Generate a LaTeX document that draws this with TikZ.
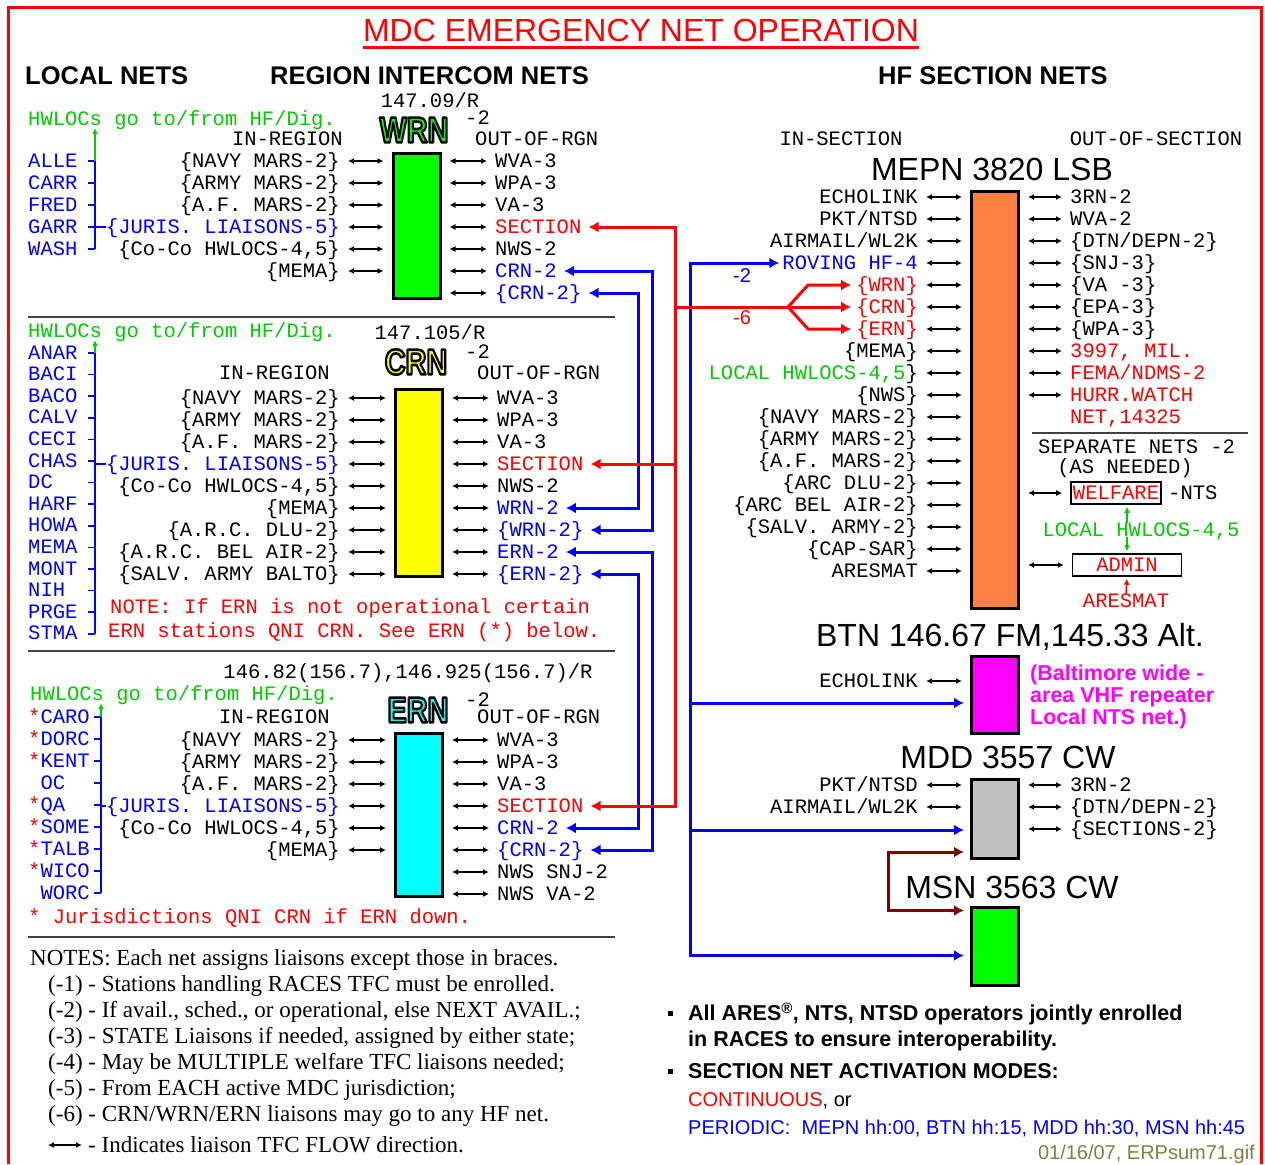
\documentclass[tikz,border=0pt]{standalone}
\usepackage{fontspec}
\setmainfont{Liberation Serif}
\setsansfont{Liberation Sans}
\setmonofont{Liberation Mono}
\usetikzlibrary{arrows.meta,calc}

\definecolor{netred}{RGB}{255,0,0}
\definecolor{netblue}{RGB}{0,0,255}
\definecolor{hwgreen}{RGB}{0,204,0}
\definecolor{boxgreen}{RGB}{0,255,0}
\definecolor{boxyellow}{RGB}{255,255,0}
\definecolor{boxcyan}{RGB}{0,255,255}
\definecolor{boxorange}{RGB}{255,128,64}
\definecolor{boxmagenta}{RGB}{255,0,255}
\definecolor{boxgrey}{RGB}{192,192,192}
\definecolor{linkbrown}{RGB}{128,0,0}
\definecolor{dateolive}{RGB}{128,128,64}

\newcommand{\monotext}{\ttfamily\fontsize{20.5}{22}\selectfont}
\newcommand{\qni}{\textcolor{netred}{*}}
\newcommand{\noqni}{\phantom{*}}
% filled letters with a black outline
\newcommand{\outlined}[2]{{\color{#1}\special{pdf:literal direct 0 0 0 RG 2.6 w 1 j 2 Tr}#2\special{pdf:literal direct 0 Tr}}}

\begin{document}
\begin{tikzpicture}[x=1pt, y=-1pt,
    lbl/.style={font=\monotext, inner sep=0pt, text height=13pt, text depth=1pt},
    head/.style={font=\sffamily\bfseries\fontsize{25.5}{26}\selectfont, inner sep=0pt, text height=18pt, text depth=0pt},
    nettitle/.style={font=\sffamily\fontsize{32}{32}\selectfont, inner sep=0pt, text height=23pt, text depth=0pt},
    logo/.style={font=\sffamily\bfseries\fontsize{36}{36}\selectfont, inner sep=0pt},
    notetext/.style={font=\rmfamily\fontsize{23}{24}\selectfont, inner sep=0pt, text height=15pt, text depth=0pt},
    bul/.style={font=\sffamily\bfseries\fontsize{21.5}{22}\selectfont, inner sep=0pt, text height=15.5pt, text depth=0pt},
    bodytext/.style={font=\sffamily\fontsize{20}{20}\selectfont, inner sep=0pt, text height=14.5pt, text depth=0pt},
    netbox/.style={draw, line width=3pt, inner sep=0pt, minimum width=47pt},
    biarrow/.style={{Latex[length=6pt,width=6pt]}-{Latex[length=6pt,width=6pt]}, line width=1.3pt, shorten <=8pt, shorten >=8pt},
    feed/.style={line width=3pt, line cap=rect, -{Latex[length=10pt,width=11pt]}},
    twoway/.style={{Latex[length=10pt,width=11pt]}-{Latex[length=10pt,width=11pt]}},
    rule/.style={line width=2pt, black!75},
    juris/.style={netblue, line width=1.5pt},
    tipup/.style={line width=1.5pt, -{Latex[length=6pt,width=6pt]}, shorten >=2pt},
  ]
    % Canvas and frame
    \useasboundingbox (0,0) rectangle (1265,1164);
    \fill[white] (0,0) rectangle (1265,1164);
    \draw[netred, line width=3pt] (8,1164) -- (8,8) -- (1261,8) -- (1261,1164);

    % Title and column heads
    \node[nettitle, text=netred] (title) at (641,30) {MDC EMERGENCY NET OPERATION};
    \draw[netred, line width=3pt] ([yshift=-6pt]title.south west) -- ([yshift=-6pt]title.south east);
    \node[head, anchor=west] (headLocal) at (25,75) {LOCAL NETS};
    \node[head, anchor=west] (headRegion) at (270,75) {REGION INTERCOM NETS};
    \node[head, anchor=west] (headSection) at (878,75) {HF SECTION NETS};

    % WRN
    \node[netbox, fill=boxgreen, minimum height=145pt] (wrn) at (416.5,226) {};
    \node[logo] (wrnLogo) at (414,130) {\scalebox{0.8}[1]{\outlined{boxgreen}{WRN}}};
    \node[lbl, anchor=west] (wrnSup) at (465,118) {-2};
    \node[lbl] (wrnFreq) at (430,101) {147.09/R};
    \node[lbl, anchor=west, text=hwgreen] (wrnHw) at (28,119) {HWLOCs go to/from HF/Dig.};
    \node[lbl, anchor=east] (wrnIn) at (343,139) {IN-REGION};
    \node[lbl, anchor=west] (wrnOut) at (475,139) {OUT-OF-RGN};
    \foreach \t [count=\i] in {\{NAVY MARS-2\}, \{ARMY MARS-2\}, \{A.F. MARS-2\},
        {\color{netblue}\{JURIS. LIAISONS-5\}}, {\{Co-Co HWLOCS-4,5\}}, \{MEMA\}} {
        \node[lbl, anchor=east] (wrnL\i) at (340,139+22*\i) {\t};
        \draw[biarrow] (wrnL\i.east) -- (wrnL\i.east -| wrn.west);
    }
    \foreach \t [count=\i] in {WVA-3, WPA-3, VA-3, {\color{netred}SECTION}, NWS-2,
        {\color{netblue}CRN-2}, {\color{netblue}\{CRN-2\}}} {
        \node[lbl, anchor=west] (wrnR\i) at (495,139+22*\i) {\t};
        \draw[biarrow] (wrn.east |- wrnR\i) -- (wrnR\i.west);
    }
    \coordinate (wrnBr) at (95,0);
    \foreach \t [count=\i] in {ALLE, CARR, FRED, GARR, WASH}
        \node[lbl, anchor=west, text=netblue] (wrnJ\i) at (28,139+22*\i) {\t};
    \draw[juris] (wrnBr |- wrnJ1) -- (wrnBr |- wrnJ5);
    \foreach \i in {1,...,5} \draw[juris] (wrnBr |- wrnJ\i) -- ++(-7,0);
    \draw[juris] (wrnBr |- wrnL4) -- (wrnL4.west);
    \draw[juris, hwgreen, tipup] (wrnBr |- wrnJ1) -- (wrnBr |- wrnHw.south);
    \draw[rule] (28,317) -- (615,317);

    % CRN
    \node[netbox, fill=boxyellow, minimum height=187pt] (crn) at (419,483) {};
    \node[logo] (crnLogo) at (416,362) {\scalebox{0.8}[1]{\outlined{boxyellow}{CRN}}};
    \node[lbl, anchor=west] (crnSup) at (465,352) {-2};
    \node[lbl] (crnFreq) at (430,333) {147.105/R};
    \node[lbl, anchor=west, text=hwgreen] (crnHw) at (28,331) {HWLOCs go to/from HF/Dig.};
    \node[lbl, anchor=east] (crnIn) at (330,373) {IN-REGION};
    \node[lbl, anchor=west] (crnOut) at (477,373) {OUT-OF-RGN};
    \foreach \t [count=\i] in {\{NAVY MARS-2\}, \{ARMY MARS-2\}, \{A.F. MARS-2\},
        {\color{netblue}\{JURIS. LIAISONS-5\}}, {\{Co-Co HWLOCS-4,5\}}, \{MEMA\},
        \{A.R.C. DLU-2\}, \{A.R.C. BEL AIR-2\}, \{SALV. ARMY BALTO\}} {
        \node[lbl, anchor=east] (crnL\i) at (340,376+22*\i) {\t};
        \draw[biarrow] (crnL\i.east) -- (crnL\i.east -| crn.west);
    }
    \foreach \t [count=\i] in {WVA-3, WPA-3, VA-3, {\color{netred}SECTION}, NWS-2,
        {\color{netblue}WRN-2}, {\color{netblue}\{WRN-2\}}, {\color{netblue}ERN-2}, {\color{netblue}\{ERN-2\}}} {
        \node[lbl, anchor=west] (crnR\i) at (497,376+22*\i) {\t};
        \draw[biarrow] (crn.east |- crnR\i) -- (crnR\i.west);
    }
    \coordinate (crnBr) at (95,0);
    \foreach \t [count=\i] in {ANAR, BACI, BACO, CALV, CECI, CHAS, DC, HARF, HOWA, MEMA, MONT, NIH, PRGE, STMA}
        \node[lbl, anchor=west, text=netblue] (crnJ\i) at (28,331.4+21.6*\i) {\t};
    \draw[juris] (crnBr |- crnJ1) -- (crnBr |- crnJ14);
    \foreach \i in {1,...,14} \draw[juris] (crnBr |- crnJ\i) -- ++(-7,0);
    \draw[juris] (crnBr |- crnL4) -- (crnL4.west);
    \draw[juris, hwgreen, tipup] (crnBr |- crnJ1) -- (crnBr |- crnHw.south);
    \node[lbl, anchor=west, text=netred] (crnNote1) at (110,607) {NOTE: If ERN is not operational certain};
    \node[lbl, anchor=west, text=netred] (crnNote2) at (108,631) {ERN stations QNI CRN. See ERN (*) below.};
    \draw[rule] (28,651) -- (615,651);

    % ERN
    \node[netbox, fill=boxcyan, minimum height=163pt] (ern) at (419,815) {};
    \node[logo] (ernLogo) at (418,710) {\scalebox{0.8}[1]{\outlined{boxcyan}{ERN}}};
    \node[lbl, anchor=west] (ernSup) at (465,700) {-2};
    \node[lbl] (ernFreq) at (408,672) {146.82(156.7),146.925(156.7)/R};
    \node[lbl, anchor=west, text=hwgreen] (ernHw) at (30,694) {HWLOCs go to/from HF/Dig.};
    \node[lbl, anchor=east] (ernIn) at (330,717) {IN-REGION};
    \node[lbl, anchor=west] (ernOut) at (477,717) {OUT-OF-RGN};
    \foreach \t [count=\i] in {\{NAVY MARS-2\}, \{ARMY MARS-2\}, \{A.F. MARS-2\},
        {\color{netblue}\{JURIS. LIAISONS-5\}}, {\{Co-Co HWLOCS-4,5\}}, \{MEMA\}} {
        \node[lbl, anchor=east] (ernL\i) at (340,718+22*\i) {\t};
        \draw[biarrow] (ernL\i.east) -- (ernL\i.east -| ern.west);
    }
    \foreach \t [count=\i] in {WVA-3, WPA-3, VA-3, {\color{netred}SECTION},
        {\color{netblue}CRN-2}, {\color{netblue}\{CRN-2\}}, NWS SNJ-2, NWS VA-2} {
        \node[lbl, anchor=west] (ernR\i) at (497,718+22*\i) {\t};
        \draw[biarrow] (ern.east |- ernR\i) -- (ernR\i.west);
    }
    \coordinate (ernBr) at (101,0);
    \foreach \t [count=\i] in {\qni CARO, \qni DORC, \qni KENT, \noqni OC, \qni QA,
        \qni SOME, \qni TALB, \qni WICO, \noqni WORC}
        \node[lbl, anchor=west, text=netblue] (ernJ\i) at (28,695+22*\i) {\t};
    \draw[juris] (ernBr |- ernJ1) -- (ernBr |- ernJ9);
    \foreach \i in {1,...,9} \draw[juris] (ernBr |- ernJ\i) -- ++(-7,0);
    \draw[juris] (ernBr |- ernL4) -- (ernL4.west);
    \draw[juris, hwgreen, tipup] (ernBr |- ernJ1) -- (ernBr |- ernHw.south);
    \node[lbl, anchor=west, text=netred] (ernNote) at (28,917) {* Jurisdictions QNI CRN if ERN down.};
    \draw[rule] (28,937) -- (615,937);

    % Notes
    \node[notetext, anchor=west] (notes0) at (30,958) {NOTES: Each net assigns liaisons except those in braces.};
    \foreach \t [count=\i] in {{(-1) - Stations handling RACES TFC must be enrolled.},
        {(-2) - If avail., sched., or operational, else NEXT AVAIL.;},
        {(-3) - STATE Liaisons if needed, assigned by either state;},
        {(-4) - May be MULTIPLE welfare TFC liaisons needed;},
        {(-5) - From EACH active MDC jurisdiction;},
        {(-6) - CRN/WRN/ERN liaisons may go to any HF net.}}
        \node[notetext, anchor=west] (notes\i) at (48,958+26*\i) {\t};
    \node[notetext, anchor=west] (notes7) at (88,1145) {- Indicates liaison TFC FLOW direction.};
    \coordinate (legendTip) at (48,1145);
    \draw[biarrow, shorten <=0pt, shorten >=6pt] (legendTip) -- (notes7.west);

    % MEPN
    \node[netbox, fill=boxorange, minimum height=417pt] (mepn) at (995,400) {};
    \node[nettitle] (mepnTitle) at (992,169) {MEPN 3820 LSB};
    \node[lbl] (inSection) at (841,139) {IN-SECTION};
    \node[lbl] (outSection) at (1156,139) {OUT-OF-SECTION};
    \foreach \t [count=\i] in {ECHOLINK, PKT/NTSD, AIRMAIL/WL2K, {\color{netblue}ROVING HF-4},
        {\color{netred}\{WRN\}}, {\color{netred}\{CRN\}}, {\color{netred}\{ERN\}}, \{MEMA\},
        {{\color{hwgreen}LOCAL HWLOCS-4,5}\}}, \{NWS\}, \{NAVY MARS-2\}, \{ARMY MARS-2\},
        \{A.F. MARS-2\}, \{ARC DLU-2\}, \{ARC BEL AIR-2\}, \{SALV. ARMY-2\}, \{CAP-SAR\}, ARESMAT} {
        \node[lbl, anchor=east] (mepnL\i) at (918,175+22*\i) {\t};
        \draw[biarrow] (mepnL\i.east) -- (mepnL\i.east -| mepn.west);
    }
    \foreach \t [count=\i] in {3RN-2, WVA-2, \{DTN/DEPN-2\}, \{SNJ-3\}, \{VA -3\}, \{EPA-3\}, \{WPA-3\},
        {\color{netred}3997, MIL.}, {\color{netred}FEMA/NDMS-2}, {\color{netred}HURR.WATCH},
        {\color{netred}NET,14325}}
        \node[lbl, anchor=west] (mepnR\i) at (1070,175+22*\i) {\t};
    \foreach \i in {1,...,10} \draw[biarrow] (mepn.east |- mepnR\i) -- (mepnR\i.west);

    % Separate nets
    \draw[rule] (1032,433) -- (1248,433);
    \node[lbl, anchor=west] (sepNets) at (1038,447) {SEPARATE NETS -2};
    \node[lbl] (asNeeded) at (1125,467) {(AS NEEDED)};
    \node[lbl, draw, line width=1.5pt, text=netred, inner xsep=2pt, inner ysep=4pt] (welfare) at (1116,493) {WELFARE};
    \node[lbl, anchor=west] (nts) at (1168,493) {-NTS};
    \node[lbl, text=hwgreen] (sepHw) at (1141,530) {LOCAL HWLOCS-4,5};
    \node[lbl, draw, line width=1.5pt, text=netred, inner ysep=4pt, minimum width=109pt] (admin) at (1127,565) {ADMIN};
    \node[lbl, text=netred] (aresmat) at (1126,601) {ARESMAT};
    \draw[biarrow] (mepn.east |- welfare) -- (welfare.west);
    \draw[biarrow] (mepn.east |- admin) -- (admin.west);
    \draw[tipup, hwgreen] (admin |- sepHw.north) -- (admin |- welfare.south);
    \draw[tipup, hwgreen] (admin |- sepHw.south) -- (admin.north);
    \draw[tipup, netred] (aresmat.north) -- (admin.south);

    % BTN
    \node[netbox, fill=boxmagenta, minimum height=77pt] (btn) at (995,695) {};
    \node[nettitle] (btnTitle) at (1010,635) {BTN 146.67 FM,145.33 Alt.};
    \node[lbl, anchor=east] (btnL1) at (918,681) {ECHOLINK};
    \draw[biarrow] (btnL1.east) -- (btnL1.east -| btn.west);
    \node[font=\sffamily\bfseries\fontsize{21.5}{22}\selectfont, text=boxmagenta, align=left,
        anchor=north west, inner sep=0pt] (btnNote) at (1030,665) {(Baltimore wide -\\area VHF repeater\\Local NTS net.)};

    % MDD
    \node[netbox, fill=boxgrey, minimum height=79pt] (mdd) at (995,819) {};
    \node[nettitle] (mddTitle) at (1008,757) {MDD 3557 CW};
    \foreach \t [count=\i] in {PKT/NTSD, AIRMAIL/WL2K} {
        \node[lbl, anchor=east] (mddL\i) at (918,763+22*\i) {\t};
        \draw[biarrow] (mddL\i.east) -- (mddL\i.east -| mdd.west);
    }
    \foreach \t [count=\i] in {3RN-2, \{DTN/DEPN-2\}, \{SECTIONS-2\}} {
        \node[lbl, anchor=west] (mddR\i) at (1070,763+22*\i) {\t};
        \draw[biarrow] (mdd.east |- mddR\i) -- (mddR\i.west);
    }

    % MSN
    \node[netbox, fill=boxgreen, minimum height=78pt] (msn) at (995,946.5) {};
    \node[nettitle] (msnTitle) at (1012,887) {MSN 3563 CW};

    % Feed points
    \coordinate (btnIn) at ([yshift=-8pt]btn.west);
    \coordinate (mddIn) at ([yshift=-11pt]mdd.west);
    \coordinate (mddLink) at ([yshift=-33pt]mdd.west);
    \coordinate (msnIn) at ([yshift=-9pt]msn.west);
    \coordinate (msnLink) at ([yshift=36pt]msn.west);
    \coordinate (linkIn) at (638,0);
    \coordinate (linkOut) at (652,0);
    \coordinate (redx) at (675,0);
    \coordinate (bluex) at (690,0);
    \coordinate (forkSplit) at (788,0);
    \coordinate (forkEnd) at (808,0);
    \coordinate (brownx) at (888,0);

    % Region links
    \draw[feed, twoway, netblue, shorten <=7pt, shorten >=7pt] (wrnR6.east) -- (linkOut |- wrnR6) -- (linkOut |- crnR7) -- (crnR7.east);
    \draw[feed, twoway, netblue, shorten <=7pt, shorten >=7pt] (wrnR7.east) -- (linkIn |- wrnR7) -- (linkIn |- crnR6) -- (crnR6.east);
    \draw[feed, twoway, netblue, shorten <=7pt, shorten >=7pt] (crnR8.east) -- (linkOut |- crnR8) -- (linkOut |- ernR6) -- (ernR6.east);
    \draw[feed, twoway, netblue, shorten <=7pt, shorten >=7pt] (crnR9.east) -- (linkIn |- crnR9) -- (linkIn |- ernR5) -- (ernR5.east);

    % Roving HF and local nets
    \draw[feed, netblue, shorten >=3pt] (bluex |- msnIn) -- (bluex |- mepnL4) -- (mepnL4.west);
    \foreach \c in {btnIn, mddIn, msnIn} \draw[feed, netblue, shorten >=6pt] (bluex |- \c) -- (\c);
    \node[font=\sffamily\fontsize{20}{20}\selectfont, text=netblue] (roveNote) at (742,276) {-2};

    % Section liaisons
    \draw[feed, netred, -] (redx |- wrnR4) -- (redx |- ernR4);
    \foreach \n in {wrnR4, crnR4, ernR4} \draw[feed, netred, shorten >=7pt] (redx |- \n) -- (\n.east);
    \draw[feed, netred, -] (redx |- mepnL6) -- (forkSplit |- mepnL6);
    \foreach \i in {5,6,7} \draw[feed, netred, line cap=butt, shorten >=5pt] (forkSplit |- mepnL6) -- (forkEnd |- mepnL\i) -- (mepnL\i.west);
    \node[font=\sffamily\fontsize{20}{20}\selectfont, text=netred] (hfNote) at (742,318) {-6};

    % MDD / MSN link
    \draw[feed, twoway, linkbrown, shorten <=6pt, shorten >=6pt] (mddLink) -- (brownx |- mddLink) -- (brownx |- msnLink) -- (msnLink);

    % Bullets
    \node[fill, inner sep=0pt, minimum size=5pt] (bulletA) at (670,1013) {};
    \node[bul, anchor=west] (aresLine1) at (688,1013) {All ARES\textsuperscript{®}, NTS, NTSD operators jointly enrolled};
    \node[bul, anchor=west] (aresLine2) at (688,1039) {in RACES to ensure interoperability.};
    \node[fill, inner sep=0pt, minimum size=5pt] (bulletB) at (670,1071) {};
    \node[bul, anchor=west] (modes) at (688,1071) {SECTION NET ACTIVATION MODES:};
    \node[bodytext, anchor=west] (modeCont) at (688,1099) {\textcolor{netred}{CONTINUOUS}, or};
    \node[bodytext, anchor=west, text=netblue] (modePer) at (688,1127) {PERIODIC:\ \ MEPN hh:00, BTN hh:15, MDD hh:30, MSN hh:45};
    \node[bodytext, anchor=east, text=dateolive] (stamp) at (1255,1152) {01/16/07, ERPsum71.gif};
\end{tikzpicture}
\end{document}
